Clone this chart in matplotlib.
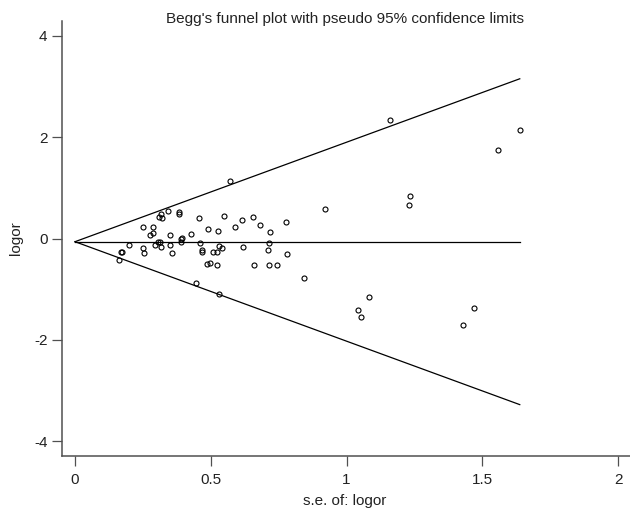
import numpy as np
import matplotlib
matplotlib.use("Agg")
import matplotlib.pyplot as plt

plt.rcParams["font.family"] = ["Liberation Sans", "DejaVu Sans"]
plt.rcParams["axes.unicode_minus"] = False

# standard error of logor and logor for each study
se = [0.168, 0.173, 0.163, 0.198, 0.250, 0.252, 0.253, 0.276, 0.286, 0.286,
      0.295, 0.306, 0.312, 0.316, 0.311, 0.318, 0.320, 0.343, 0.382, 0.384,
      0.350, 0.350, 0.358, 0.389, 0.394, 0.390, 0.426, 0.458, 0.460, 0.467,
      0.468, 0.491, 0.507, 0.486, 0.498, 0.524, 0.528, 0.524, 0.530, 0.549,
      0.446, 0.530, 0.570, 0.543, 0.590, 0.614, 0.656, 0.681, 0.717, 0.716,
      0.710, 0.776, 0.921, 0.620, 0.658, 0.713, 0.744, 0.781, 0.845, 1.160,
      1.638, 1.558, 1.234, 1.229, 1.084, 1.041, 1.055, 1.468, 1.429]
logor = [-0.266, -0.266, -0.424, -0.128, 0.232, -0.187, -0.292, 0.063, 0.221, 0.114,
         -0.128, -0.060, -0.060, -0.173, 0.418, 0.483, 0.404, 0.542, 0.528, 0.483,
         0.069, -0.122, -0.280, -0.004, 0.010, -0.069, 0.083, 0.404, -0.083, -0.227,
         -0.266, 0.187, -0.266, -0.502, -0.489, -0.516, 0.142, -0.266, -0.148, 0.443,
         -0.877, -1.099, 1.127, -0.193, 0.227, 0.359, 0.424, 0.260, 0.134, -0.089,
         -0.227, 0.325, 0.587, -0.173, -0.522, -0.522, -0.522, -0.300, -0.784, 2.330,
         2.130, 1.744, 0.837, 0.666, -1.147, -1.415, -1.553, -1.369, -1.698]
pooled = -0.063

fig = plt.figure(figsize=(6.3, 5.11), dpi=100)
W, H = 630, 511
ax = fig.add_axes([62 / W, 1 - 455.7 / H, (630 - 62) / W, (455.7 - 21) / H])

# funnel: pooled line and pseudo 95% limits
xs = np.array([0, max(se)])
ax.plot(xs, [pooled, pooled], color="black", lw=0.9)
ax.plot(xs, pooled + 1.96 * xs, color="black", lw=0.9)
ax.plot(xs, pooled - 1.96 * xs, color="black", lw=0.9)

ax.plot(se, logor, linestyle="none", marker="o", markersize=3.6,
        markerfacecolor="none", markeredgecolor="black", markeredgewidth=0.8)

ax.set_xlim(-0.0479, 2.044)
ax.set_ylim(-4.280, 4.286)
ax.set_xticks([0, 0.5, 1, 1.5, 2])
ax.set_xticklabels(["0", "0.5", "1", "1.5", "2"])
ax.set_yticks([-4, -2, 0, 2, 4])

for s in ["top", "right"]:
    ax.spines[s].set_visible(False)
for s in ["left", "bottom"]:
    ax.spines[s].set_color("#505050")
    ax.spines[s].set_linewidth(1.1)

ax.tick_params(axis="both", direction="out", length=7, width=0.9, color="#505050",
               labelsize=11, labelcolor="#222222")
ax.tick_params(axis="x", pad=5.5)
ax.tick_params(axis="y", pad=3.5)

fig.text(345 / W, 1 - 23 / H, "Begg's funnel plot with pseudo 95% confidence limits",
         ha="center", va="baseline", fontsize=11, color="#222222")
fig.text(345 / W, 1 - 505 / H, "s.e. of: logor", ha="center", va="baseline",
         fontsize=11, color="#222222")
fig.text(16 / W, 1 - 238 / H, "logor", ha="center", va="center", rotation=90,
         fontsize=11, color="#222222")

fig.savefig("out.png", dpi=100)
